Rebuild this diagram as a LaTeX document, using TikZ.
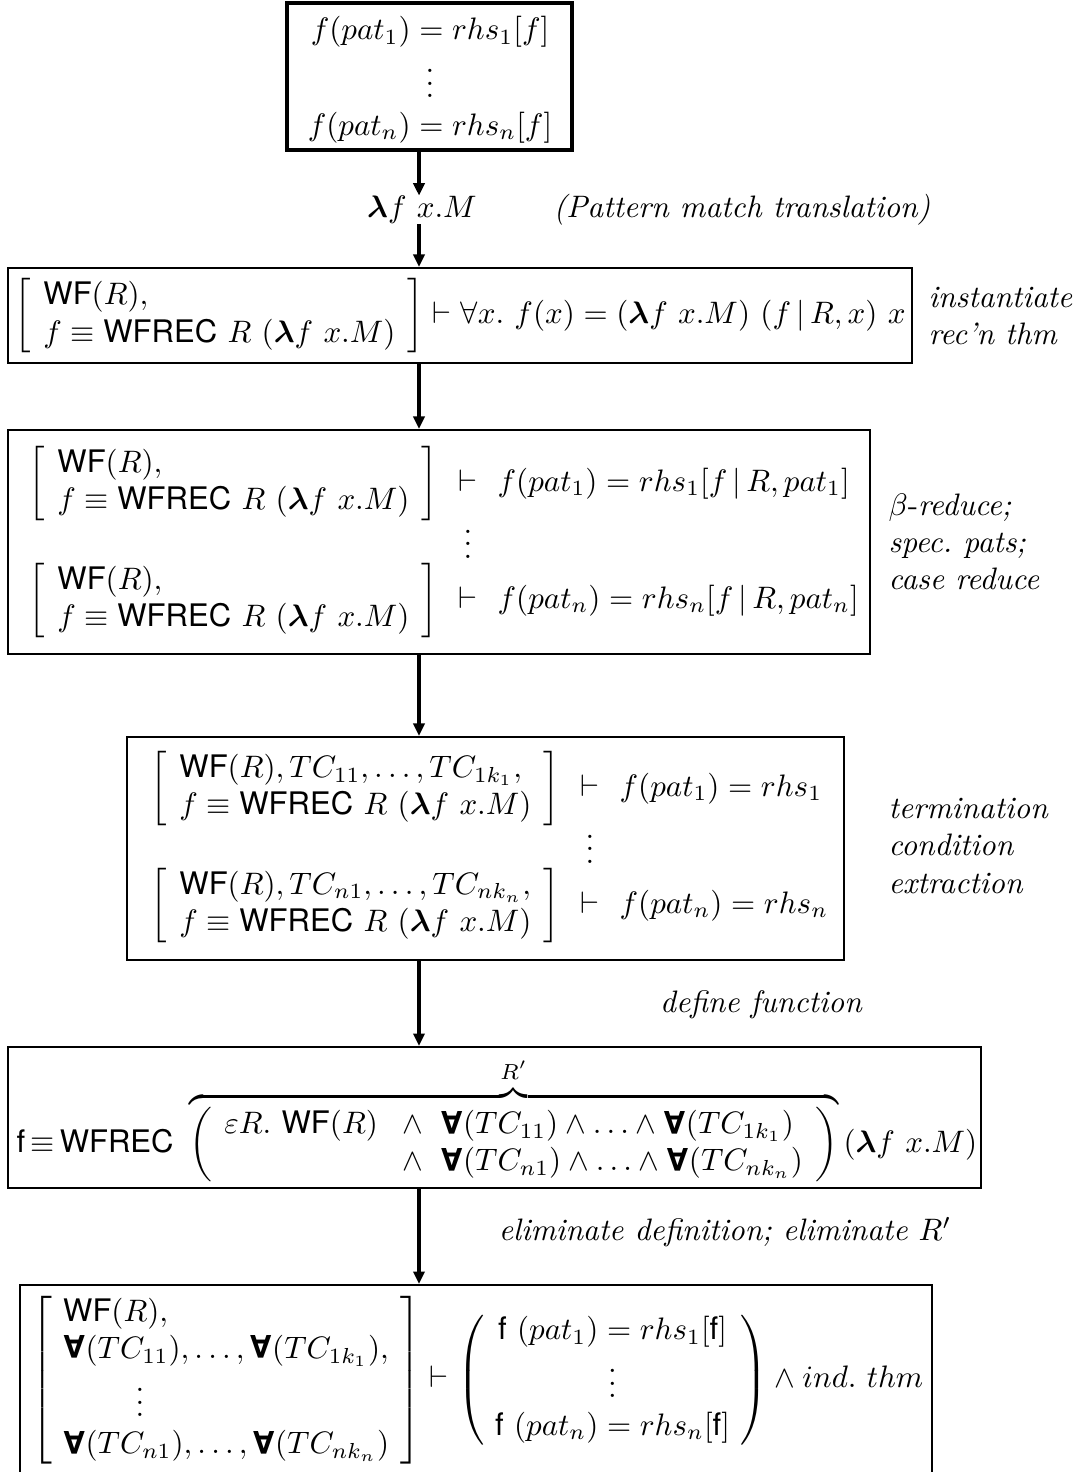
\documentclass[tikz,border=0pt]{standalone}
\usepackage{amsmath,amssymb}
\usepackage{fontspec}
\setsansfont{TeX Gyre Heros}
\usetikzlibrary{fit,arrows.meta}
\newcommand{\WF}{\textsf{WF}}
\newcommand{\WFREC}{\textsf{WFREC}}
\newcommand{\blam}{\boldsymbol{\lambda}}
\newcommand{\bAll}{\mathord{\rotatebox[origin=c]{180}{\sffamily\bfseries A}}}
\newcommand{\hyp}{\left[\begin{array}{l}\WF(R),\\ f\equiv\WFREC\ R\ (\blam f\ x.M)\end{array}\right]}
\setlength{\arraycolsep}{4pt}
\begin{document}
\begin{tikzpicture}[x=0.322pt,y=-0.322pt,
  boxA/.style={draw,line width=1.3pt,inner sep=0pt},
  boxB/.style={draw,line width=0.7pt,inner sep=0pt},
  txt/.style={inner sep=0pt},
  lbl/.style={inner sep=0pt,align=left,anchor=west,font=\itshape},
  arr/.style={line width=1.3pt,-{Triangle[length=4pt,width=3.6pt]}}]
\useasboundingbox (0,0) rectangle (1079,1472);
\coordinate (ax) at (419,0);
% box 1
\node[boxA,fit={(287,3) (572,150)}] (b1) {};
\node[txt] (c1) at (430,80) {$\begin{array}{c} f(pat_1) = rhs_1[f]\\ \vdots\\ f(pat_n) = rhs_n[f]\end{array}$};
\node[txt] (lam) at (422,210) {$\blam f\ x.M$};
\node[txt,font=\itshape] (pm) at (742,210) {(Pattern match translation)};
% box 2
\node[boxB,fit={(8,268) (912,363)}] (b2) {};
\node[txt,anchor=west] (c2) at (14,316) {$\hyp \vdash \forall x.\ f(x) = (\blam f\ x.M)\ (f\,|\,R,x)\ x$};
\node[lbl] (l2) at (928,316) {instantiate\\rec'n thm};
% box 3
\node[boxB,fit={(8,430) (870,654)}] (b3) {};
\node[txt,anchor=west] (c3) at (28,542) {$\begin{array}{@{}c@{\hspace{6.5pt}}c@{\hspace{6.5pt}}l@{}}
 \hyp & \vdash & f(pat_1) = rhs_1[f\,|\,R,pat_1]\\[-3pt]
 & \vdots & \\[-2pt]
 \hyp & \vdash & f(pat_n) = rhs_n[f\,|\,R,pat_n]\end{array}$};
\node[lbl] (l3) at (888,542) {\upshape$\beta$-\itshape reduce;\\spec.\ pats;\\case reduce};
% box 4
\node[boxB,fit={(127,737) (844,960)}] (b4) {};
\node[txt,anchor=west] (c4) at (150,847) {$\begin{array}{@{}c@{\hspace{6.5pt}}c@{\hspace{6.5pt}}l@{}}
 \left[\begin{array}{l}\WF(R), TC_{11},\ldots,TC_{1k_1},\\ f\equiv\WFREC\ R\ (\blam f\ x.M)\end{array}\right] & \vdash & f(pat_1) = rhs_1\\[-3pt]
 & \vdots & \\[-2pt]
 \left[\begin{array}{l}\WF(R), TC_{n1},\ldots,TC_{nk_n},\\ f\equiv\WFREC\ R\ (\blam f\ x.M)\end{array}\right] & \vdash & f(pat_n) = rhs_n\end{array}$};
\node[lbl] (l4) at (888,846) {termination\\condition\\extraction};
\node[txt,font=\itshape] (ldef) at (761,1005) {define function};
% box 5
\node[boxB,fit={(8,1047) (981,1188)}] (b5) {};
\node[txt,anchor=west] (c5) at (16,1120) {$\textsf{f}\,{\equiv}\,\WFREC\ \overbrace{\left(\begin{array}{ll}\varepsilon R.\ \WF(R) & {\wedge}\;\;\bAll(TC_{11})\wedge\ldots\wedge\bAll(TC_{1k_1})\\ & {\wedge}\;\;\bAll(TC_{n1})\wedge\ldots\wedge\bAll(TC_{nk_n})\end{array}\right)}^{R'}\,(\blam f\ x.M)$};
\node[txt,font=\itshape] (lelim) at (725,1232) {eliminate definition; eliminate \upshape$R'$};
% box 6
\node[boxB,fit={(20,1285) (932,1500)}] (b6) {};
\node[txt,anchor=west] (c6) at (31,1380) {\setlength{\arraycolsep}{3.5pt}$\left[\begin{array}{l}\WF(R),\\ \bAll(TC_{11}),\ldots,\bAll(TC_{1k_1}),\\ \qquad\ \vdots\\ \bAll(TC_{n1}),\ldots,\bAll(TC_{nk_n})\end{array}\right]\vdash\left(\begin{array}{c}\textsf{f}\ (pat_1)=rhs_1[\textsf{f}]\\ \vdots\\ \textsf{f}\ (pat_n)=rhs_n[\textsf{f}]\end{array}\right)\wedge ind.\ thm$};
% arrows
\draw[arr] (b1.south -| ax) -- (lam.north -| ax);
\draw[arr] (lam.south -| ax) -- (b2.north -| ax);
\draw[arr] (b2.south -| ax) -- (b3.north -| ax);
\draw[arr] (b3.south -| ax) -- (b4.north -| ax);
\draw[arr] (b4.south -| ax) -- (b5.north -| ax);
\draw[arr] (b5.south -| ax) -- (b6.north -| ax);
\end{tikzpicture}
\end{document}
